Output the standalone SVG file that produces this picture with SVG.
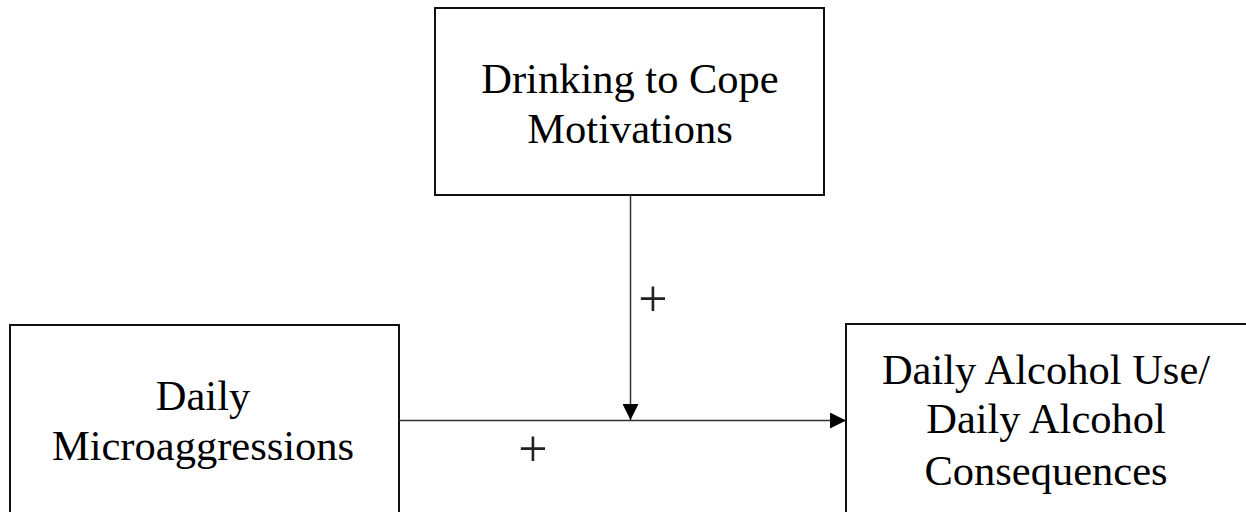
<svg xmlns="http://www.w3.org/2000/svg" width="1246" height="512" viewBox="0 0 1246 512">
<style>
.box{fill:#fff;stroke:#111;stroke-width:2}
.lbl{font-family:"Liberation Serif","Times New Roman",serif;font-size:42.5px;fill:#000;text-anchor:middle}
.sign{font-family:"Liberation Serif","Times New Roman",serif;font-size:52px;font-weight:300;fill:#222;text-anchor:middle}
.conn{stroke:#333;stroke-width:1.5;fill:none}
</style>
<defs>
<marker id="arr" viewBox="0 0 16 16" refX="16" refY="8" markerWidth="16" markerHeight="16" markerUnits="userSpaceOnUse" orient="auto">
<path d="M0,0 L16,8 L0,16 Z" fill="#000"/>
</marker>
</defs>
<rect width="1246" height="512" fill="#fff"/>
<g id="node-coping">
<rect class="box" x="435" y="8" width="389" height="187"/>
<text class="lbl" x="630" y="93">Drinking to Cope</text>
<text class="lbl" x="630" y="143">Motivations</text>
</g>
<g id="node-micro">
<rect class="box" x="10" y="325" width="389" height="200"/>
<text class="lbl" x="203" y="410">Daily</text>
<text class="lbl" x="203" y="460">Microaggressions</text>
</g>
<g id="node-alcohol">
<rect class="box" x="846" y="324" width="410" height="200"/>
<text class="lbl" x="1046" y="384">Daily Alcohol Use/</text>
<text class="lbl" x="1046" y="433">Daily Alcohol</text>
<text class="lbl" x="1046" y="485">Consequences</text>
</g>
<g id="connectors">
<line class="conn" x1="399" y1="420.5" x2="846" y2="420.5" marker-end="url(#arr)"/>
<line class="conn" x1="630.5" y1="195" x2="630.5" y2="420" marker-end="url(#arr)"/>
<text class="sign" x="653" y="316">+</text>
<text class="sign" x="533" y="466">+</text>
</g>
</svg>
